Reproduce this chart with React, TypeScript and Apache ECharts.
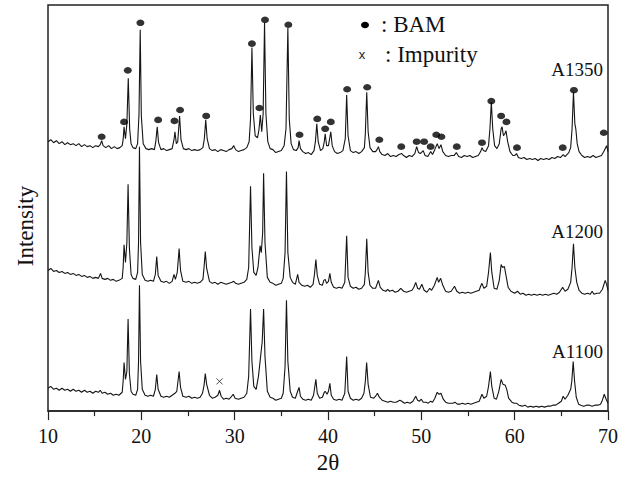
import React, { useEffect, useRef } from 'react';
import * as echarts from 'echarts';

const SERIF = '"Liberation Serif", "Times New Roman", serif';

// x-axis ticks (2θ)
const xMin = 10;
const xMax = 70;
const xStep = 10;
// intensity scale (a.u.)
const yMax = 410;

const sampleNames = ['A1350', 'A1200', 'A1100'];

// Patterns as flat [2θ, intensity, 2θ, intensity, ...]
const a1350 = [
  10.0,272, 10.3,274, 10.6,271, 10.9,273, 11.2,270, 11.5,272, 11.8,269, 12.1,271, 12.4,269, 12.7,270, 13.0,268, 13.3,270, 13.6,267, 13.9,269, 14.2,267, 14.5,268, 14.8,266, 15.1,268, 15.4,267,
  15.6,269, 15.75,273, 15.9,268,
  16.2,266, 16.5,268, 16.8,265, 17.1,267, 17.4,265, 17.7,266, 17.95,268,
  18.05,274, 18.15,287, 18.3,275, 18.45,290, 18.6,336, 18.75,285, 18.9,270, 19.1,266, 19.4,265, 19.6,270,
  19.75,300, 19.88,385, 20.0,298, 20.2,270, 20.5,265, 20.8,264, 21.1,265, 21.4,264,
  21.55,272, 21.7,287, 21.85,271, 22.1,264, 22.4,265, 22.7,263, 23.0,264, 23.3,265,
  23.5,274, 23.6,282, 23.75,270, 23.9,272, 24.1,298, 24.25,274, 24.5,265, 24.8,264, 25.1,265, 25.4,263, 25.7,264, 26.0,263, 26.3,264, 26.6,266,
  26.75,275, 26.9,294, 27.05,275, 27.3,265, 27.6,263, 27.9,264, 28.2,262, 28.5,264, 28.8,263, 29.1,262, 29.4,264, 29.7,265, 29.9,268, 30.1,264, 30.4,262, 30.7,263, 31.0,264, 31.3,266, 31.55,272,
  31.7,295, 31.85,367, 32.0,300, 32.2,278, 32.45,276, 32.6,284, 32.75,299, 32.9,282, 33.05,300, 33.2,392, 33.35,300, 33.55,272, 33.8,265, 34.1,264, 34.4,261, 34.7,262, 35.0,263, 35.3,268, 35.5,285,
  35.7,387, 35.85,295, 36.05,270, 36.3,264, 36.6,263, 36.8,266, 36.9,273, 37.05,265, 37.3,262, 37.6,260, 37.9,261, 38.2,259, 38.5,263, 38.65,272,
  38.8,290, 38.95,272, 39.2,263, 39.45,265, 39.6,272, 39.7,280, 39.85,268, 40.05,268, 40.3,282, 40.45,268, 40.7,262, 41.0,260, 41.3,261, 41.6,263, 41.85,275,
  42.0,319, 42.15,278, 42.4,263, 42.7,261, 43.0,262, 43.3,260, 43.6,262, 43.9,266, 44.0,280, 44.15,322, 44.3,282, 44.5,266, 44.8,262, 45.1,262, 45.25,264, 45.4,267, 45.55,262, 45.8,259, 46.1,258, 46.4,260, 46.7,257, 47.0,258, 47.3,257, 47.6,259, 47.9,260, 48.1,258, 48.4,256, 48.7,258, 49.0,257, 49.3,260,
  49.5,267, 49.7,261, 49.9,260, 50.2,263, 50.4,258, 50.7,257, 51.0,262, 51.2,259, 51.4,263, 51.7,270, 51.9,265, 52.1,269, 52.3,262, 52.6,258, 52.9,257, 53.2,258, 53.5,258, 53.75,261, 54.0,257, 54.3,256, 54.6,258, 54.9,257, 55.2,258, 55.5,256, 55.8,257, 56.1,258, 56.35,262,
  56.5,266, 56.65,263, 56.9,262, 57.2,268, 57.35,285, 57.5,312, 57.65,285, 57.85,268, 58.1,265, 58.35,270, 58.55,285, 58.65,287, 58.8,278, 58.95,280, 59.07,283, 59.25,272, 59.5,262, 59.8,258, 60.0,258, 60.2,260, 60.4,256, 60.7,255, 61.0,256, 61.3,254, 61.6,255, 61.9,254, 62.2,255, 62.5,253, 62.8,255, 63.1,254, 63.4,255, 63.7,254, 64.0,256, 64.3,255, 64.6,257, 64.9,256,
  65.2,259, 65.4,257, 65.6,259, 65.8,261, 66.0,266, 66.15,285, 66.3,322, 66.45,290, 66.55,285, 66.7,270, 66.9,262, 67.2,258, 67.5,256, 67.8,257, 68.1,256, 68.4,258, 68.7,256, 69.0,257, 69.3,258, 69.55,262, 69.85,268, 70.0,262,
];

const a1200 = [
  10.0,142, 10.3,144, 10.6,141, 10.9,142, 11.2,140, 11.5,141, 11.8,139, 12.1,140, 12.4,138, 12.7,139, 13.0,137, 13.3,138, 13.6,136, 13.9,137, 14.2,135, 14.5,136, 14.8,134, 15.1,135, 15.4,134,
  15.63,139, 15.8,134, 16.1,133, 16.4,134, 16.7,132, 17.0,133, 17.3,131, 17.6,132, 17.95,134,
  18.05,145, 18.15,168, 18.3,150, 18.45,170, 18.58,229, 18.72,165, 18.9,138, 19.1,134, 19.4,133, 19.6,140, 19.7,170, 19.8,267, 19.92,170, 20.1,138, 20.4,132, 20.7,131, 21.0,132, 21.3,131,
  21.5,138, 21.65,156, 21.8,137, 22.1,131, 22.4,130, 22.7,131, 23.0,129, 23.3,131, 23.5,138, 23.65,133, 23.85,140, 24.05,164, 24.2,142, 24.45,131, 24.8,130, 25.1,131, 25.4,129, 25.7,130, 26.0,129, 26.3,130, 26.6,133,
  26.72,145, 26.85,161, 27.0,144, 27.3,131, 27.6,129, 27.9,130, 28.2,128, 28.5,130, 28.8,129, 29.1,128, 29.4,129, 29.7,130, 29.9,131, 30.1,129, 30.4,128, 30.7,129, 31.0,130, 31.3,133, 31.5,145,
  31.7,227, 31.85,165, 32.05,140, 32.3,137, 32.5,145, 32.72,167, 32.85,160, 33.0,180, 33.1,240, 33.25,170, 33.5,135, 33.8,130, 34.1,129, 34.4,127, 34.7,128, 35.0,129, 35.2,134, 35.4,160,
  35.55,242, 35.7,160, 35.95,135, 36.2,130, 36.5,128, 36.75,138, 36.9,130, 37.2,127, 37.5,126, 37.8,127, 38.1,125, 38.4,128, 38.55,138, 38.7,153, 38.85,137, 39.1,128, 39.4,127, 39.55,132, 39.7,133, 39.85,129, 40.05,131, 40.2,139, 40.35,130, 40.6,125, 40.9,124, 41.2,125, 41.5,124, 41.8,130,
  42.0,177, 42.15,135, 42.4,126, 42.7,124, 43.0,125, 43.3,123, 43.6,124, 43.9,128, 44.0,140, 44.15,174, 44.3,140, 44.5,127, 44.8,124, 45.1,124, 45.4,132, 45.6,125, 45.9,122, 46.2,121, 46.4,123, 46.6,121, 46.9,122, 47.2,120, 47.5,121, 47.8,124, 48.1,121, 48.4,120, 48.7,121, 49.0,122, 49.2,125,
  49.4,130, 49.6,124, 49.8,123, 50.05,128, 50.3,122, 50.6,120, 50.9,124, 51.1,122, 51.4,127, 51.7,135, 51.85,130, 52.07,134, 52.3,127, 52.6,121, 52.9,120, 53.2,121, 53.56,126, 53.8,121, 54.1,119, 54.4,120, 54.7,119, 55.0,120, 55.3,119, 55.6,120, 55.9,121, 56.2,122, 56.35,126,
  56.5,129, 56.7,124, 57.0,126, 57.2,140, 57.4,160, 57.55,140, 57.8,124, 58.1,123, 58.35,132, 58.55,148, 58.7,145, 58.9,146, 59.05,138, 59.3,125, 59.6,121, 60.0,119, 60.3,121, 60.6,118, 60.9,119, 61.2,117, 61.5,118, 61.8,117, 62.1,118, 62.4,117, 62.7,118, 63.0,117, 63.3,118, 63.6,117, 63.9,118, 64.2,119, 64.5,118, 64.8,120,
  65.14,125, 65.4,121, 65.7,123, 66.0,130, 66.15,145, 66.3,169, 66.45,145, 66.65,130, 66.9,122, 67.2,119, 67.5,118, 67.8,119, 68.1,118, 68.3,121, 68.5,118, 68.8,119, 69.1,119, 69.4,123, 69.7,132, 69.85,128, 70.0,122,
];

const a1100 = [
  10.0,23, 10.3,25, 10.6,22, 10.9,23, 11.2,21, 11.5,23, 11.8,21, 12.1,22, 12.4,20, 12.7,22, 13.0,20, 13.3,21, 13.6,19, 13.9,21, 14.2,19, 14.5,20, 14.8,18, 15.1,20, 15.4,19,
  15.6,21, 15.8,18, 16.1,19, 16.4,17, 16.7,18, 17.0,16, 17.3,17, 17.6,16, 17.95,19,
  18.05,30, 18.15,49, 18.3,32, 18.45,40, 18.58,93, 18.72,38, 18.9,20, 19.1,17, 19.4,16, 19.6,22, 19.7,50, 19.8,127, 19.92,50, 20.1,22, 20.4,16, 20.7,15, 21.0,16, 21.3,15,
  21.5,22, 21.65,37, 21.8,22, 22.1,15, 22.4,14, 22.7,15, 23.0,14, 23.3,16, 23.6,18, 23.8,20, 24.05,40, 24.2,24, 24.45,15, 24.8,14, 25.1,15, 25.4,13, 25.7,14, 26.0,13, 26.3,14, 26.55,18,
  26.72,26, 26.85,38, 27.0,27, 27.3,16, 27.6,13, 27.9,14, 28.2,16, 28.38,21, 28.55,15, 28.8,12, 29.1,13, 29.4,12, 29.6,14, 29.84,17, 30.05,13, 30.4,12, 30.7,13, 31.0,14, 31.3,18, 31.5,35,
  31.7,103, 31.85,50, 32.05,25, 32.3,22, 32.55,35, 32.8,57, 32.95,70, 33.1,103, 33.25,55, 33.5,20, 33.8,14, 34.1,13, 34.4,11, 34.7,12, 35.0,13, 35.2,18, 35.4,45,
  35.55,112, 35.7,50, 35.95,20, 36.2,14, 36.5,13, 36.75,20, 36.9,24, 37.05,15, 37.3,12, 37.6,11, 37.9,12, 38.2,11, 38.45,16, 38.7,32, 38.85,18, 39.1,13, 39.4,14, 39.6,19, 39.7,20, 39.9,17, 40.05,20, 40.2,28, 40.35,16, 40.6,12, 40.9,11, 41.2,12, 41.5,11, 41.8,18,
  42.0,55, 42.15,20, 42.4,13, 42.7,11, 43.0,12, 43.3,11, 43.6,13, 43.85,18, 44.0,30, 44.14,49, 44.3,27, 44.55,14, 44.9,13, 45.1,15, 45.3,18, 45.5,14, 45.8,11, 46.1,10, 46.4,9, 46.7,10, 47.0,9, 47.3,9, 47.5,10, 47.7,11, 47.9,10, 48.2,8, 48.5,9, 48.8,8, 49.1,10,
  49.4,15, 49.6,11, 49.8,10, 50.0,12, 50.2,9, 50.5,9, 50.75,8, 51.0,10, 51.2,9, 51.45,13, 51.7,19, 51.9,17, 52.1,18, 52.35,12, 52.6,9, 52.9,8, 53.2,8, 53.4,8, 53.6,9, 53.85,7, 54.1,7, 54.4,8, 54.7,7, 55.0,8, 55.3,7, 55.6,8, 55.9,9, 56.2,10,
  56.5,17, 56.7,13, 57.0,15, 57.2,25, 57.4,40, 57.55,25, 57.8,13, 58.05,12, 58.3,20, 58.55,32, 58.75,27, 59.0,26, 59.15,22, 59.35,13, 59.7,9, 59.95,8, 60.2,8, 60.45,6, 60.8,5, 61.1,6, 61.4,4, 61.7,5, 62.0,4, 62.3,5, 62.6,4, 62.9,5, 63.2,4, 63.5,5, 63.8,5, 64.1,6, 64.4,6, 64.7,8, 65.0,10,
  65.2,15, 65.4,12, 65.7,16, 66.0,22, 66.12,30, 66.27,50, 66.42,30, 66.6,14, 66.85,7, 67.1,6, 67.4,5, 67.7,6, 68.0,6, 68.3,5, 68.6,6, 68.9,6, 69.2,7, 69.4,11, 69.6,17, 69.8,12, 70.0,8,
];

// BAM reflection markers above the A1350 pattern
const bamMarks = [
  15.75,277, 18.15,292, 18.55,344, 19.9,392, 21.8,294, 23.55,293, 24.15,304, 26.95,298, 31.85,371, 32.65,306, 33.25,395, 35.75,390, 36.95,279, 38.85,295, 39.7,285, 40.3,292, 42.05,325, 44.2,327, 45.5,274, 47.85,267, 49.5,272, 50.3,272, 51.0,267, 51.6,279, 52.15,277, 53.8,267, 56.5,271, 57.5,313, 58.55,298, 59.12,292, 60.25,266, 65.15,266, 66.35,324, 69.55,281,
];

// impurity marker above the A1100 pattern
const impurityMarks = [28.38, 30];

const pairs = (a: number[]) => {
  const out: number[][] = [];
  for (let i = 0; i < a.length; i += 2) out.push([a[i], a[i + 1]]);
  return out;
};

export default function App() {
  const ref = useRef<HTMLDivElement>(null);
  useEffect(() => {
    const chart = echarts.init(ref.current!, null, { renderer: 'svg' });
    const lineSeries = (name: string, d: number[]) => ({
      name,
      type: 'line',
      data: pairs(d),
      showSymbol: false,
      symbol: 'none',
      smooth: false,
      lineStyle: { color: '#151515', width: 1.1 },
      z: 2,
    });
    chart.setOption({
      animation: false,
      backgroundColor: '#ffffff',
      grid: { left: 48, right: 21, top: 5, bottom: 64, show: true, borderColor: '#222', borderWidth: 1.5, backgroundColor: 'transparent' },
      xAxis: {
        type: 'value',
        min: xMin,
        max: xMax,
        interval: xStep,
        axisLine: { show: true, lineStyle: { color: '#222', width: 1.5 } },
        axisTick: { show: true, inside: false, length: 9, lineStyle: { color: '#222', width: 1.2 } },
        minorTick: { show: true, splitNumber: 2, length: 5, lineStyle: { color: '#222', width: 1.2 } },
        axisLabel: { margin: 15, fontFamily: SERIF, fontSize: 20, color: '#111' },
        splitLine: { show: false },
        name: '2θ',
        nameLocation: 'middle',
        nameGap: 31,
        nameTextStyle: { fontFamily: SERIF, fontSize: 23, color: '#111' },
      },
      yAxis: {
        type: 'value',
        min: 0,
        max: yMax,
        axisLine: { show: false },
        axisTick: { show: false },
        axisLabel: { show: false },
        splitLine: { show: false },
      },
      series: [
        lineSeries(sampleNames[0], a1350),
        lineSeries(sampleNames[1], a1200),
        lineSeries(sampleNames[2], a1100),
        {
          name: 'BAM',
          type: 'scatter',
          data: pairs(bamMarks),
          symbol: 'circle',
          symbolSize: [8, 6.5],
          itemStyle: { color: '#000' },
          z: 3,
        },
        {
          name: 'Impurity',
          type: 'scatter',
          data: pairs(impurityMarks),
          symbol: 'path://M0,0L10,10M10,0L0,10',
          symbolSize: [6, 6],
          itemStyle: { color: 'none', borderColor: '#222', borderWidth: 1 },
          z: 3,
        },
      ],
      graphic: [
        { type: 'text', x: 25, y: 226, rotation: Math.PI / 2, style: { text: 'Intensity', font: `23px ${SERIF}`, fill: '#111', textAlign: 'center', textVerticalAlign: 'middle' } },
        { type: 'ellipse', shape: { cx: 365, cy: 25, rx: 4, ry: 3.3 }, style: { fill: '#000' } },
        { type: 'text', x: 381, y: 24.5, style: { text: ': BAM', font: `23px ${SERIF}`, fill: '#111', textAlign: 'left', textVerticalAlign: 'middle' } },
        { type: 'text', x: 362, y: 54, style: { text: 'x', font: '13px "Liberation Sans", Arial, sans-serif', fill: '#222', textAlign: 'center', textVerticalAlign: 'middle' } },
        { type: 'text', x: 385, y: 54.5, style: { text: ': Impurity', font: `23px ${SERIF}`, fill: '#111', textAlign: 'left', textVerticalAlign: 'middle' } },
        { type: 'text', x: 603, y: 69, style: { text: sampleNames[0], font: `19px ${SERIF}`, fill: '#111', textAlign: 'right', textVerticalAlign: 'middle' } },
        { type: 'text', x: 603, y: 231, style: { text: sampleNames[1], font: `19px ${SERIF}`, fill: '#111', textAlign: 'right', textVerticalAlign: 'middle' } },
        { type: 'text', x: 603, y: 351, style: { text: sampleNames[2], font: `19px ${SERIF}`, fill: '#111', textAlign: 'right', textVerticalAlign: 'middle' } },
      ],
    });
    return () => chart.dispose();
  }, []);
  return <div ref={ref} style={{ position: 'absolute', left: 0, top: 0, width: 629, height: 479, background: '#fff' }} />;
}
